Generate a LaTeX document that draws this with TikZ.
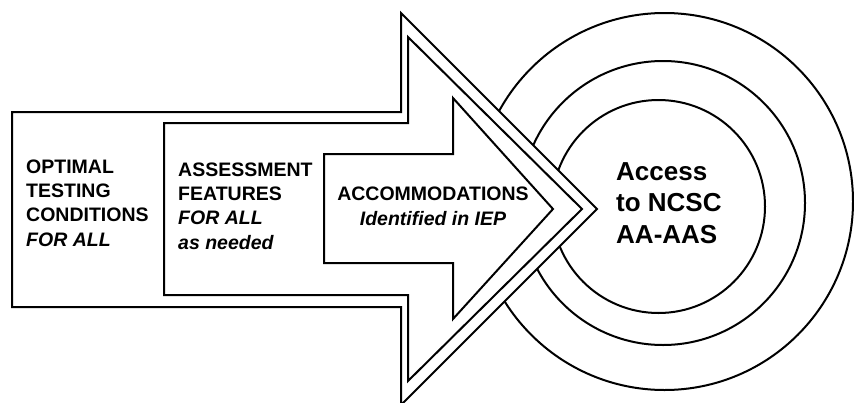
\documentclass[tikz,border=0pt]{standalone}
\usepackage{fontspec}
\setmainfont{Liberation Sans}
\begin{document}
\begin{tikzpicture}[x=1pt,y=-1pt,
  outline/.style={draw=black,line width=2pt,fill=white,line join=miter},
  lbl/.style={inner sep=0pt,font=\fontsize{19.5}{24.2}\selectfont\bfseries,align=left},
  big/.style={inner sep=0pt,font=\fontsize{26}{31.5}\selectfont\bfseries,align=left}]
\useasboundingbox (0,0) rectangle (854,402);
% target rings
\draw[outline] (664.5,201.5) circle[radius=188.5];
\draw[outline] (663,203) circle[radius=142];
\draw[outline] (658.5,206.5) circle[radius=106.5];
% nested arrows
\draw[outline] (12,112) -- (401,112) -- (401,13) -- (597,209) -- (401,405) -- (401,307) -- (12,307) -- cycle;
\draw[outline] (164,123) -- (408,123) -- (408,37) -- (582,209) -- (408,381) -- (408,295) -- (164,295) -- cycle;
\draw[outline] (324,154) -- (453,154) -- (453,98) -- (553,209) -- (453,319) -- (453,263) -- (324,263) -- cycle;
% texts (base anchor = baseline of the last line)
\node[lbl,anchor=base west] (opt) at (26,246) {OPTIMAL\\TESTING\\CONDITIONS\\\itshape FOR ALL};
\node[lbl,anchor=base west] (feat) at (178,249) {ASSESSMENT\\FEATURES\\\itshape FOR ALL\\\itshape as needed};
\node[lbl,anchor=base,align=center,font=\fontsize{19.5}{25}\selectfont\bfseries] (acc) at (433,225) {ACCOMMODATIONS\\\itshape Identified in IEP};
\node[big,anchor=base west] (goal) at (616,243) {Access\\to NCSC\\AA-AAS};
\end{tikzpicture}
\end{document}
